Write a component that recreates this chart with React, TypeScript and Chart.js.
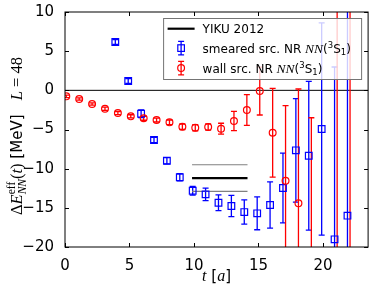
import React, { useEffect, useRef } from 'react';
import { Chart, registerables } from 'chart.js';

Chart.register(...registerables);

// ---- data ----
const smearedT = [4, 5, 6, 7, 8, 9, 10, 11, 12, 13, 14, 15, 16, 17, 18, 19, 20, 21, 22];
const smearedE = [6.17, 1.19, -2.99, -6.34, -8.99, -11.1, -12.82, -13.28, -14.35, -14.77, -15.54, -15.7, -14.64, -12.47, -7.66, -8.35, -4.94, -19.02, -16.0];
const smearedErr = [0.3, 0.3, 0.5, 0.35, 0.4, 0.45, 0.55, 0.8, 1.0, 1.35, 1.55, 2.1, 2.95, 4.45, 6.6, 9.5, 13.55, 22, 35];

const wallT = [0, 1, 2, 3, 4, 5, 6, 7, 8, 9, 10, 11, 12, 13, 14, 15, 16, 17, 18, 19, 21, 22];
const wallE = [-0.77, -1.11, -1.75, -2.35, -2.9, -3.32, -3.57, -3.79, -4.09, -4.65, -4.77, -4.69, -4.9, -3.92, -2.51, -0.09, -5.41, -11.54, -14.43, -24, -30, -30];
const wallErr = [0.15, 0.15, 0.15, 0.2, 0.2, 0.2, 0.25, 0.25, 0.3, 0.35, 0.4, 0.4, 0.7, 1.23, 1.96, 3.06, 5.66, 9.6, 14.6, 20.5, 45, 45];

const yikuT = [9.85, 14.15];
const yikuCenter = -11.2;
const yikuUpper = -9.5;
const yikuLower = -12.9;

const xTicks = [0, 5, 10, 15, 20];
const yTicks = [-20, -15, -10, -5, 0, 5, 10];

const legendLabels = ['YIKU 2012', 'smeared src. NR ', 'wall src. NR '];

const T_SHIFT = 0.1;
const BLUE = '#0000ff';
const RED = '#ff0000';
const SANS = '"DejaVu Sans"';
const SERIF = '"Liberation Serif"';

function errBar(ctx: CanvasRenderingContext2D, x: number, y1: number, y2: number, cap: number) {
  ctx.beginPath();
  ctx.moveTo(x, y1);
  ctx.lineTo(x, y2);
  ctx.moveTo(x - cap, y1);
  ctx.lineTo(x + cap, y1);
  ctx.moveTo(x - cap, y2);
  ctx.lineTo(x + cap, y2);
  ctx.stroke();
}

const customPlugin = {
  id: 'custom',
  beforeDatasetsDraw(chart: any) {
    const { ctx, chartArea: a, scales } = chart;
    const xs = scales.x, ys = scales.y;
    ctx.save();
    ctx.beginPath();
    ctx.rect(a.left, a.top, a.right - a.left, a.bottom - a.top);
    ctx.clip();
    // zero line
    const y0 = ys.getPixelForValue(0);
    ctx.strokeStyle = '#000';
    ctx.lineWidth = 1;
    ctx.beginPath();
    ctx.moveTo(a.left, y0);
    ctx.lineTo(a.right, y0);
    ctx.stroke();
    // error bars
    ctx.lineWidth = 1.3;
    ctx.strokeStyle = BLUE;
    smearedT.forEach((t, i) => {
      const x = xs.getPixelForValue(t - T_SHIFT);
      errBar(ctx, x, ys.getPixelForValue(smearedE[i] + smearedErr[i]), ys.getPixelForValue(smearedE[i] - smearedErr[i]), 3);
    });
    ctx.strokeStyle = RED;
    wallT.forEach((t, i) => {
      const x = xs.getPixelForValue(t + T_SHIFT);
      errBar(ctx, x, ys.getPixelForValue(wallE[i] + wallErr[i]), ys.getPixelForValue(wallE[i] - wallErr[i]), 3);
    });
    ctx.restore();
  },
  afterDraw(chart: any) {
    const { ctx, chartArea: a, scales } = chart;
    const xs = scales.x, ys = scales.y;
    ctx.save();
    // frame
    ctx.strokeStyle = '#000';
    ctx.lineWidth = 1;
    ctx.strokeRect(a.left, a.top, a.right - a.left, a.bottom - a.top);
    // ticks inward on all sides
    const tl = 4;
    ctx.beginPath();
    xTicks.forEach((v) => {
      const x = Math.round(xs.getPixelForValue(v)) + 0.5;
      ctx.moveTo(x, a.bottom);
      ctx.lineTo(x, a.bottom - tl);
      ctx.moveTo(x, a.top);
      ctx.lineTo(x, a.top + tl);
    });
    yTicks.forEach((v) => {
      const y = Math.round(ys.getPixelForValue(v)) + 0.5;
      ctx.moveTo(a.left, y);
      ctx.lineTo(a.left + tl, y);
      ctx.moveTo(a.right, y);
      ctx.lineTo(a.right - tl, y);
    });
    ctx.stroke();

    // legend
    const lw = 198, lh = 61;
    const lx = a.right - 6.5 - lw;
    const ly = a.top + 6.5;
    ctx.fillStyle = 'rgba(255,255,255,0.8)';
    ctx.fillRect(lx, ly, lw, lh);
    ctx.strokeStyle = '#747474';
    ctx.lineWidth = 1;
    ctx.strokeRect(lx, ly, lw, lh);
    const rows = [ly + 10.2, ly + 29.6, ly + 49.6];
    const mx = lx + 17.5;
    const tx = lx + 39;
    // row 1 line
    ctx.strokeStyle = '#000';
    ctx.lineWidth = 2.2;
    ctx.beginPath();
    ctx.moveTo(lx + 4, rows[0]);
    ctx.lineTo(lx + 31, rows[0]);
    ctx.stroke();
    // row 2 smeared
    ctx.strokeStyle = BLUE;
    ctx.lineWidth = 1.3;
    errBar(ctx, mx, rows[1] - 6.7, rows[1] + 6.7, 3);
    ctx.lineWidth = 1.2;
    ctx.strokeRect(mx - 3.3, rows[1] - 3.3, 6.6, 6.6);
    // row 3 wall
    ctx.strokeStyle = RED;
    ctx.lineWidth = 1.3;
    errBar(ctx, mx, rows[2] - 6.7, rows[2] + 6.7, 3);
    ctx.lineWidth = 1.2;
    ctx.beginPath();
    ctx.arc(mx, rows[2], 3.4, 0, Math.PI * 2);
    ctx.stroke();
    // texts
    ctx.fillStyle = '#000';
    ctx.textBaseline = 'alphabetic';
    ctx.textAlign = 'left';
    const fs = 12;
    const drawSeq = (x: number, base: number, segs: [string, string, number][]) => {
      let cx = x;
      for (const [t, f, dy] of segs) {
        ctx.font = f;
        ctx.fillText(t, cx, base + dy);
        cx += ctx.measureText(t).width;
      }
      return cx;
    };
    ctx.font = `${fs}px ${SANS}`;
    ctx.fillText(legendLabels[0], tx, rows[0] + 4.4);
    const nnSegs = (): [string, string, number][] => [
      ['NN', `italic ${fs + 1.5}px ${SERIF}`, 0],
      ['(', `${fs}px ${SANS}`, 0],
      ['3', `${8.5}px ${SANS}`, -5],
      ['S', `${fs}px ${SANS}`, 0],
      ['1', `${8.5}px ${SANS}`, 2.5],
      [')', `${fs}px ${SANS}`, 0],
    ];
    drawSeq(tx, rows[1] + 4.4, [[legendLabels[1], `${fs}px ${SANS}`, 0], ...nnSegs()]);
    drawSeq(tx, rows[2] + 4.4, [[legendLabels[2], `${fs}px ${SANS}`, 0], ...nnSegs()]);

    // x axis label: t [a]
    const xl: [string, string, number][] = [
      ['t', `italic 16px ${SERIF}`, 0],
      [' [', `15px ${SANS}`, 0],
      ['a', `italic 16px ${SERIF}`, 0],
      [']', `15px ${SANS}`, 0],
    ];
    let wsum = 0;
    xl.forEach(([t, f]) => { ctx.font = f; wsum += ctx.measureText(t).width; });
    const xc = (a.left + a.right) / 2;
    drawSeq(xc - wsum / 2, 281, xl);

    // y axis label (rotated)
    const main = 16.5, small = 11.5;
    type S = { t: string; f: string; dy: number; stack?: boolean };
    const ysegs: S[] = [
      { t: 'Δ', f: `${main}px ${SERIF}`, dy: 0 },
      { t: 'E', f: `italic ${main}px ${SERIF}`, dy: 0 },
      { t: 'eff', f: `${small}px ${SERIF}`, dy: -6.5, stack: true },
      { t: 'NN', f: `italic ${small}px ${SERIF}`, dy: 4 },
      { t: '(', f: `${main}px ${SERIF}`, dy: 0 },
      { t: 't', f: `italic ${main}px ${SERIF}`, dy: 0 },
      { t: ')', f: `${main}px ${SERIF}`, dy: 0 },
      { t: ' [MeV]', f: `15px ${SANS}`, dy: 0 },
      { t: '   ', f: `15px ${SANS}`, dy: 0 },
      { t: 'L', f: `italic ${main}px ${SERIF}`, dy: 0 },
      { t: ' = ', f: `${main}px ${SERIF}`, dy: 0 },
      { t: '48', f: `${main}px ${SERIF}`, dy: 0 },
    ];
    const widths = ysegs.map((s) => { ctx.font = s.f; return ctx.measureText(s.t).width; });
    let total = 0;
    for (let i = 0; i < ysegs.length; i++) {
      if (ysegs[i].stack) { total += Math.max(widths[i], widths[i + 1]); i++; }
      else total += widths[i];
    }
    const yBottom = a.bottom - 32;
    ctx.translate(21.5, yBottom);
    ctx.rotate(-Math.PI / 2);
    let cx = 0;
    for (let i = 0; i < ysegs.length; i++) {
      const s = ysegs[i];
      if (s.stack) {
        const n = ysegs[i + 1];
        ctx.font = s.f; ctx.fillText(s.t, cx, s.dy);
        ctx.font = n.f; ctx.fillText(n.t, cx, n.dy);
        cx += Math.max(widths[i], widths[i + 1]);
        i++;
      } else {
        ctx.font = s.f; ctx.fillText(s.t, cx, s.dy);
        cx += widths[i];
      }
    }
    ctx.restore();
  },
};

export default function App() {
  const ref = useRef<HTMLCanvasElement>(null);
  useEffect(() => {
    if (!ref.current) return;
    const line = (y: number, color: string, w: number) => ({
      data: yikuT.map((t) => ({ x: t, y })),
      showLine: true,
      borderColor: color,
      backgroundColor: color,
      borderWidth: w,
      pointRadius: 0,
      borderCapStyle: 'butt',
    });
    const chart = new Chart(ref.current, {
      type: 'scatter',
      data: {
        datasets: [
          {
            data: wallT.map((t, i) => ({ x: t + T_SHIFT, y: wallE[i] })),
            pointStyle: 'circle',
            pointRadius: 3.4,
            borderColor: RED,
            backgroundColor: 'rgba(0,0,0,0)',
            borderWidth: 1.2,
          } as any,
          {
            data: smearedT.map((t, i) => ({ x: t - T_SHIFT, y: smearedE[i] })),
            pointStyle: 'rect',
            pointRadius: 4.7,
            borderColor: BLUE,
            backgroundColor: 'rgba(0,0,0,0)',
            borderWidth: 1.2,
          } as any,
          line(yikuCenter, '#000', 2.2) as any,
          line(yikuUpper, '#808080', 1.2) as any,
          line(yikuLower, '#808080', 1.2) as any,
        ],
      },
      options: {
        animation: false,
        responsive: false,
        events: [],
        layout: { padding: { left: 0, right: 5, top: 12, bottom: 0 } },
        plugins: { legend: { display: false }, tooltip: { enabled: false } },
        scales: {
          x: {
            type: 'linear',
            min: 0,
            max: 23.5,
            grid: { display: false },
            border: { display: false },
            afterBuildTicks: (s: any) => { s.ticks = xTicks.map((v) => ({ value: v })); },
            afterFit: (s: any) => { s.height = 44; },
            ticks: {
              padding: 2,
              color: '#000',
              font: { family: 'DejaVu Sans', size: 15 },
              callback: (v: any) => String(v).replace('-', '\u2212'),
            },
          },
          y: {
            type: 'linear',
            min: -20,
            max: 10,
            grid: { display: false },
            border: { display: false },
            afterBuildTicks: (s: any) => { s.ticks = yTicks.map((v) => ({ value: v })); },
            afterFit: (s: any) => { s.width = 65; },
            ticks: {
              padding: 3,
              color: '#000',
              font: { family: 'DejaVu Sans', size: 15 },
              callback: (v: any) => String(v).replace('-', '\u2212'),
            },
          },
        },
      } as any,
      plugins: [customPlugin],
    });
    return () => chart.destroy();
  }, []);
  return (
    <div style={{ position: 'absolute', left: 0, top: 0, width: 374, height: 291, background: '#fff' }}>
      <canvas ref={ref} width={374} height={291} style={{ display: 'block' }} />
    </div>
  );
}
